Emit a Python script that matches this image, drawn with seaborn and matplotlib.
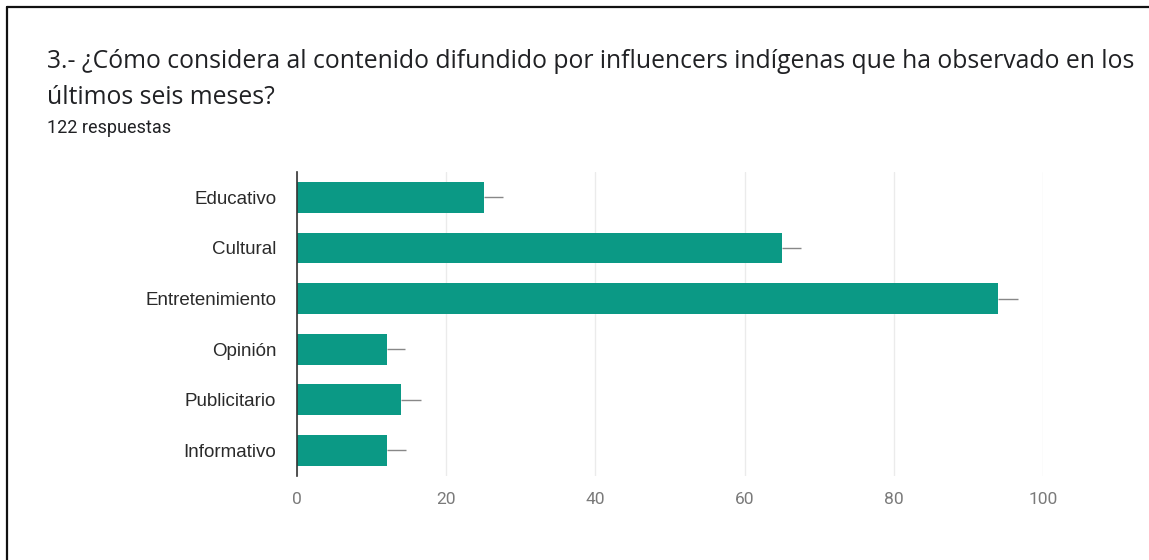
import matplotlib
matplotlib.use("Agg")
import matplotlib.pyplot as plt
import seaborn as sns
import pandas as pd
from matplotlib.lines import Line2D

categories = ["Educativo", "Cultural", "Entretenimiento", "Opinión", "Publicitario", "Informativo"]
counts = [25, 65, 94, 12, 14, 12]
spread = [2.6, 2.6, 2.7, 2.5, 2.6, 2.6]
xticks = [0, 20, 40, 60, 80, 100]

title_line1 = "3.- ¿Cómo considera al contenido difundido por influencers indígenas que ha observado en los"
title_line2 = "últimos seis meses?"
subtitle = "122 respuestas"

sns.set_theme(style="white")
plt.rcParams["font.family"] = ["Liberation Sans", "DejaVu Sans"]

df = pd.DataFrame({"categoria": categories, "respuestas": counts})

fig = plt.figure(figsize=(11.49, 5.6), dpi=100)
ax = fig.add_axes([0.2585, 0.1505, 0.6493, 0.5423])

bar_color = "#0b9985"
sns.barplot(data=df, y="categoria", x="respuestas", orient="h", color=bar_color,
            saturation=1, width=0.61, linewidth=0, ax=ax, zorder=3)

# thin whisker from the end of each bar
for i, (v, s) in enumerate(zip(counts, spread)):
    ax.hlines(i, v, v + s, color="#888888", linewidth=1.0, zorder=2)

ax.set_xlim(0, 100)
ax.set_ylim(len(categories) - 0.5, -0.5)
ax.set_xticks(xticks)
ax.set_xticklabels([str(t) for t in xticks], family=["Roboto", "DejaVu Sans"],
                   fontsize=12.5, color="#7a7a7a")
ax.tick_params(axis="x", length=0, pad=12)
ax.tick_params(axis="y", length=0, pad=15, labelsize=13.5, labelcolor="#2a2a2a")
ax.set_xlabel("")
ax.set_ylabel("")
ax.grid(axis="x", color="#ebebeb", linewidth=1.0, zorder=0)
ax.set_axisbelow(True)
for side in ["top", "right", "bottom"]:
    ax.spines[side].set_visible(False)
ax.spines["left"].set_color("#333333")
ax.spines["left"].set_linewidth(1.2)
ax.spines["left"].set_zorder(4)

fig.text(47 / 1149, 1 - 62 / 560, title_line1, fontsize=17.85, color="#202124",
         family=["Open Sans", "DejaVu Sans"], va="center", ha="left")
fig.text(47 / 1149, 1 - 98 / 560, title_line2, fontsize=17.85, color="#202124",
         family=["Open Sans", "DejaVu Sans"], va="center", ha="left")
fig.text(47 / 1149, 1 - 128 / 560, subtitle, fontsize=13, color="#202124",
         family=["Roboto", "DejaVu Sans"], va="center", ha="left")

# card edge on the left and top
fig.add_artist(Line2D([7 / 1149, 7 / 1149], [0, 1 - 7 / 560], transform=fig.transFigure,
                      color="#111111", linewidth=1.6))
fig.add_artist(Line2D([7 / 1149, 1], [1 - 7 / 560, 1 - 7 / 560], transform=fig.transFigure,
                      color="#111111", linewidth=1.6))

fig.savefig("out.png", dpi=100, facecolor="white")
